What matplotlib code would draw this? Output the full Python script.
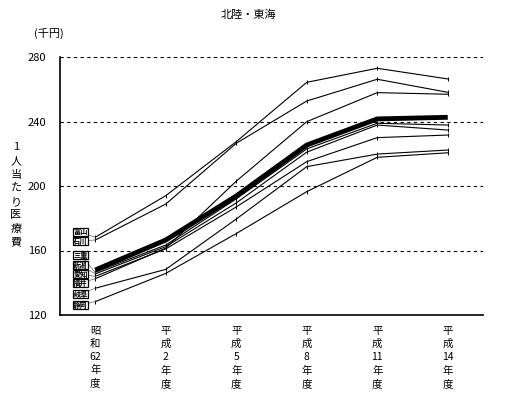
import matplotlib
matplotlib.use('Agg')
import matplotlib.pyplot as plt

plt.rcParams['font.family'] = ['Noto Sans CJK JP', 'DejaVu Sans']

# 年度 (x axis)
years = ['昭\n和\n62\n年\n度', '平\n成\n2\n年\n度', '平\n成\n5\n年\n度',
         '平\n成\n8\n年\n度', '平\n成\n11\n年\n度', '平\n成\n14\n年\n度']

# 1人当たり医療費 (千円)
zenkoku = [147.9, 166.5, 193.8, 225.4, 241.6, 242.6]
toyama = [168.2, 194.0, 227.5, 264.3, 273.0, 266.4]
ishikawa = [166.5, 188.8, 226.5, 252.7, 266.2, 258.1]
mie = [146.5, 163.4, 192.0, 223.0, 238.9, 237.8]
niigata = [145.5, 162.4, 189.5, 221.0, 237.8, 234.7]
aichi = [144.0, 161.0, 187.0, 215.1, 230.0, 231.6]
fukui = [142.5, 161.5, 203.0, 239.9, 257.9, 256.9]
gifu = [136.6, 148.3, 179.5, 212.0, 219.8, 222.3]
shizuoka = [128.3, 145.8, 170.5, 196.5, 217.8, 220.6]

prefs = ['富山', '石川', '三重', '新潟', '愛知', '福井', '岐阜', '静岡']
pref_values = [toyama, ishikawa, mie, niigata, aichi, fukui, gifu, shizuoka]
label_y = [171.5, 165.9, 157.2, 151.0, 145.4, 139.8, 133.0, 126.2]

fig = plt.figure(figsize=(5.05, 3.97), dpi=100)
ax = fig.add_axes([60 / 505, 1 - 315 / 397, (483 - 60) / 505, (315 - 57) / 397])

x = list(range(len(years)))
for vals in pref_values:
    ax.plot(x, vals, color='black', lw=0.8, marker='|', ms=2.5, mew=0.7)
ax.plot(x, zenkoku, color='black', lw=3.5, solid_capstyle='butt')

for name, vals, ly in zip(prefs, pref_values, label_y):
    ax.annotate(name, xy=(0, vals[0]), xytext=(-0.21, ly),
                ha='center', va='center', fontsize=5.2, fontweight='bold',
                bbox=dict(boxstyle='square,pad=0.08', fc='white', ec='black', lw=0.9),
                arrowprops=dict(arrowstyle='-', color='gray', lw=0.6,
                                shrinkA=0, shrinkB=0))

ax.set_xlim(-0.5, 5.5)
ax.set_ylim(120, 280)
ax.set_yticks([120, 160, 200, 240, 280])
ax.set_xticks(x)
ax.set_xticklabels(years, fontsize=7.5, linespacing=1.38)
ax.tick_params(axis='y', length=0, pad=10, labelsize=8)
ax.tick_params(axis='x', length=0, pad=8)
ax.yaxis.grid(True, linestyle=(0, (3, 3)), color='black', lw=0.8)
ax.set_axisbelow(True)
for side in ['top', 'right']:
    ax.spines[side].set_visible(False)
for side in ['left', 'bottom']:
    ax.spines[side].set_linewidth(1.2)

fig.text(248 / 505, 1 - 15 / 397, '北陸・東海', ha='center', va='center', fontsize=8)
fig.text(49 / 505, 1 - 33 / 397, '(千円)', ha='center', va='center', fontsize=8)
fig.text(16 / 505, 1 - 195 / 397, '1\n人\n当\nた\nり\n医\n療\n費',
         ha='center', va='center', fontsize=8, linespacing=1.45)

fig.savefig('out.png', dpi=100)
